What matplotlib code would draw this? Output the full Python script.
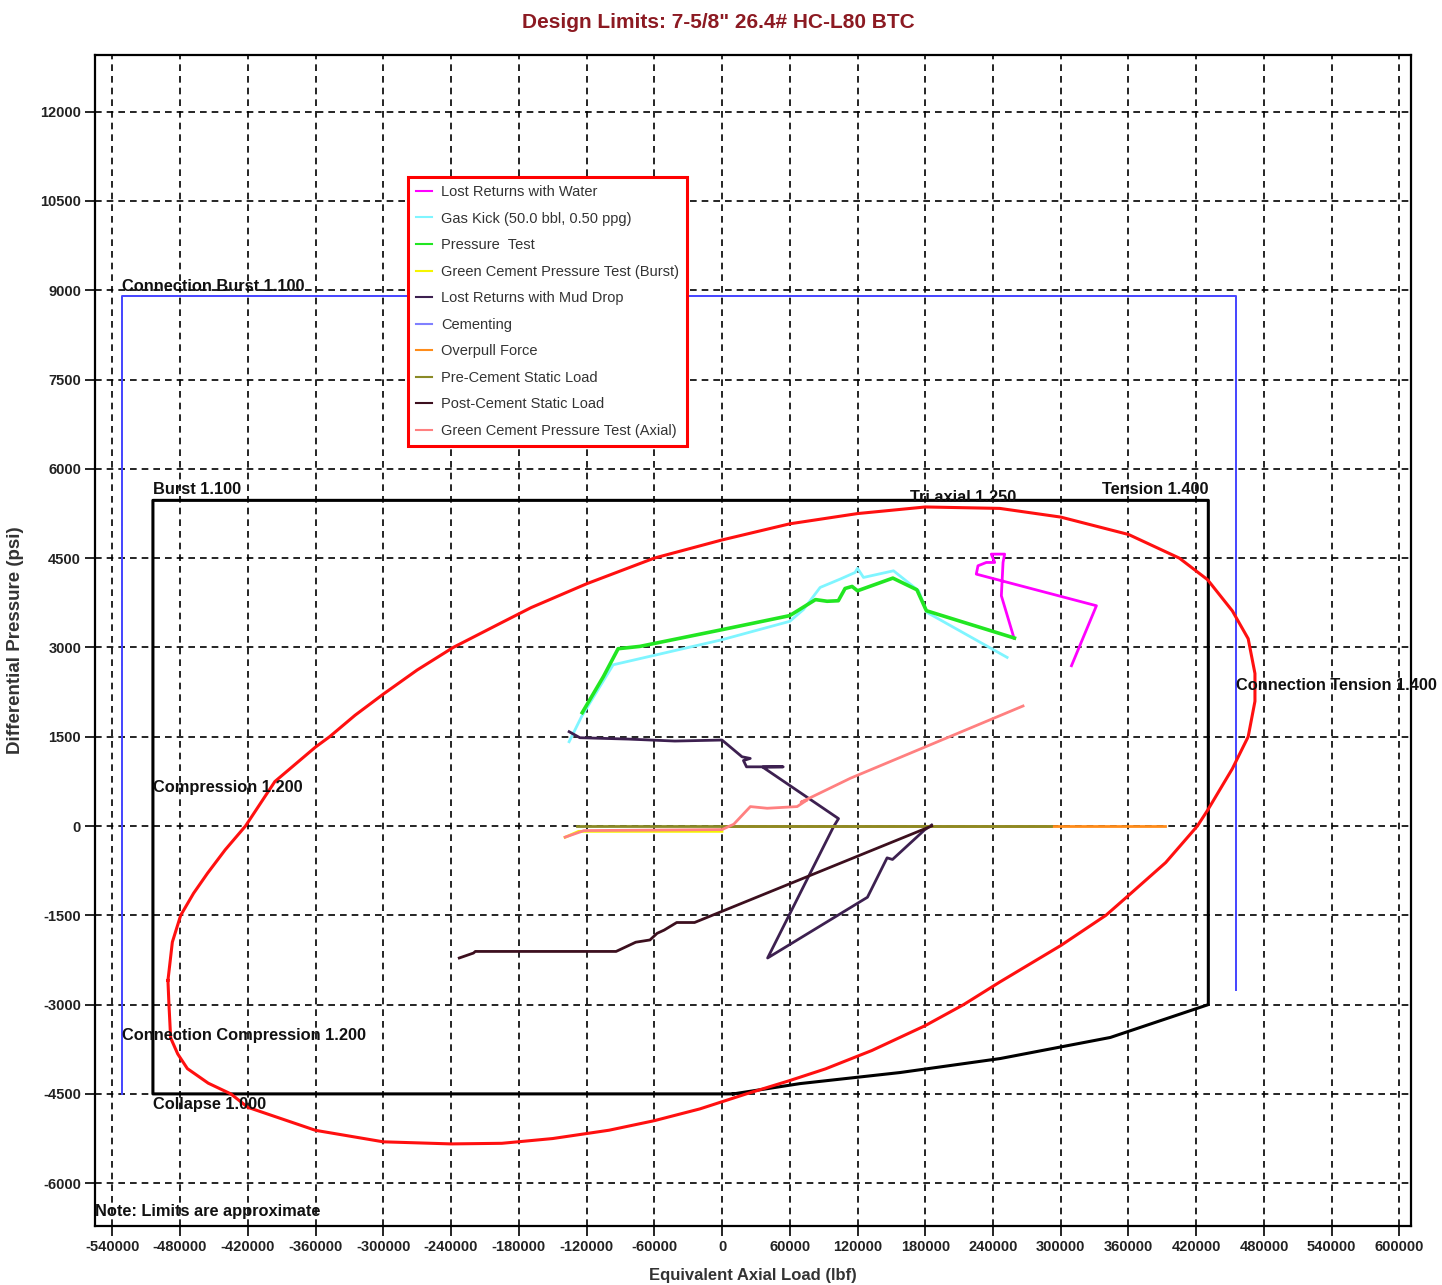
import matplotlib
matplotlib.use('Agg')
import matplotlib.pyplot as plt

plt.rcParams['font.family'] = ['Liberation Sans', 'DejaVu Sans']
plt.rcParams['axes.unicode_minus'] = False

# ---------------- data ----------------
title = 'Design Limits: 7-5/8" 26.4# HC-L80 BTC'
x_ticks = list(range(-540000, 600001, 60000))
y_ticks = list(range(-6000, 12001, 1500))

# Triaxial (von Mises) ellipse
ellipse_x = [-490700, -486800, -479400, -468000, -455600, -440000, -422000, -396000, -360000,
             -347500, -325000, -300000, -270000, -238000, -195000, -169000, -120000, -60000,
             0, 60000, 120000, 180000, 246000, 300000, 360000, 405000, 430000, 452000, 466000,
             472000, 472000, 466000, 452000, 430000, 421000, 393000, 360000, 340000, 300000,
             246000, 214000, 180000, 132600, 91600, 60000, 21500, -19600, -60000, -100000,
             -150000, -195000, -240000, -300000, -360000, -420000, -435000, -455000, -473500,
             -482000, -488300, -489800, -490700]
ellipse_y = [-2594, -1950, -1500, -1130, -792, -400, 0, 747, 1326,
             1500, 1860, 2215, 2620, 3000, 3418, 3669, 4068, 4500,
             4805, 5076, 5248, 5359, 5335, 5189, 4897, 4500, 4138, 3613, 3146,
             2562, 2095, 1500, 963, 263, 0, -613, -1167, -1500, -2008,
             -2621, -3000, -3353, -3772, -4080, -4276, -4500, -4752, -4950, -5110,
             -5250, -5330, -5340, -5305, -5112, -4725, -4500, -4320, -4075,
             -3830, -3560, -3000, -2594]

# Pipe body limits (black)
body_x = [10000, -504000, -504000, 430700, 430700, 343900, 246400, 157800, 69100, 10000]
body_y = [-4500, -4500, 5470, 5470, -3000, -3552, -3906, -4141, -4327, -4500]

# Connection limits (blue)
conn_x = [-531000, -531000, 455000, 455000]
conn_y = [-4500, 8900, 8900, -2760]

# Load cases
water_x = [258600, 247400, 248900, 250300, 238500, 241500, 234100, 226700, 225200, 331600, 309500]
water_y = [3157, 3868, 4427, 4567, 4567, 4427, 4427, 4371, 4231, 3700, 2692]

gaskick_x = [-135400, -124400, -96400, 0, 60000, 72100, 86900, 104600, 117900, 120000, 125300,
             151900, 174100, 181500, 252500]
gaskick_y = [1416, 1837, 2708, 3129, 3438, 3635, 4007, 4147, 4259, 4330, 4175,
             4287, 3951, 3588, 2832]

ptest_x = [-123800, -105000, -92000, -72700, 0, 60000, 82800, 93100, 103000, 109000, 115200,
           120000, 151300, 172600, 181000, 259000]
ptest_y = [1904, 2511, 2978, 3017, 3298, 3534, 3803, 3775, 3784, 3990, 4024,
           3951, 4164, 3968, 3616, 3157]

gcburst_x = [-139000, -127000, -60000, 0]
gcburst_y = [-190, -90, -90, -90]

muddrop_x = [-135400, -125900, -83000, -41700, 0, 17700, 25000, 19000, 21700, 54200, 36000,
             103200, 98800, 40400, 128800, 146200, 151000, 179400, 185700]
muddrop_y = [1584, 1483, 1460, 1427, 1444, 1163, 1135, 1100, 994, 994, 990,
             124, -11, -2217, -1197, -535, -562, -66, 17]

cementing_x = []
cementing_y = []

overpull_x = [0, 392000]
overpull_y = [0, 0]

precement_x = [-128600, 291800]
precement_y = [0, 0]

postcement_x = [-232700, -220100, -218500, -93800, -76400, -63800, -57500, -51200, -40100,
                -24300, 185700]
postcement_y = [-2217, -2134, -2107, -2107, -1952, -1914, -1803, -1748, -1621,
                -1621, 0]

gcaxial_x = [-138900, -122200, 0, 10400, 25100, 40000, 66500, 75400, 70000, 113800, 266600]
gcaxial_y = [-187, -77, -60, 30, 326, 298, 326, 438, 400, 803, 2016]

series = [
    ('Lost Returns with Water', water_x, water_y, '#ff00ff'),
    ('Gas Kick (50.0 bbl, 0.50 ppg)', gaskick_x, gaskick_y, '#7ff5ff'),
    ('Pressure  Test', ptest_x, ptest_y, '#22e622'),
    ('Green Cement Pressure Test (Burst)', gcburst_x, gcburst_y, '#f5f500'),
    ('Lost Returns with Mud Drop', muddrop_x, muddrop_y, '#3d2050'),
    ('Cementing', cementing_x, cementing_y, '#8080ff'),
    ('Overpull Force', overpull_x, overpull_y, '#ff8c1a'),
    ('Pre-Cement Static Load', precement_x, precement_y, '#8a8a26'),
    ('Post-Cement Static Load', postcement_x, postcement_y, '#3c0f1e'),
    ('Green Cement Pressure Test (Axial)', gcaxial_x, gcaxial_y, '#ff8080'),
]

# ---------------- figure ----------------
W, H = 1442, 1285
fig = plt.figure(figsize=(W / 100, H / 100), dpi=100)
ax = fig.add_axes([95 / W, 1 - 1226 / H, (1411 - 95) / W, (1226 - 55) / H])

ax.set_xlim(-555300, 610200)
ax.set_ylim(-6719, 12951)
ax.set_xticks(x_ticks)
ax.set_yticks(y_ticks)
ax.tick_params(axis='both', direction='out', length=7, width=1.2, labelsize=10.5, pad=3)
for lab in ax.get_xticklabels() + ax.get_yticklabels():
    lab.set_fontweight('bold')
    lab.set_color('#222222')
for s in ax.spines.values():
    s.set_linewidth(1.6)
ax.grid(True, color='black', linestyle=(0, (4, 3)), linewidth=1.2)
ax.set_axisbelow(True)

# limits
ax.plot(conn_x, conn_y, color='#4444ff', lw=1.4, zorder=2)
ax.plot(body_x, body_y, color='black', lw=2.2, zorder=2)
ax.plot(ellipse_x, ellipse_y, color='#ff1010', lw=2.2, zorder=3)

for name, xs, ys, c in series:
    lw = 2.0
    if name == 'Pressure  Test':
        lw = 2.6
    ax.plot(xs, ys, color=c, lw=lw, label=name, zorder=4)

# annotations
tk = dict(fontsize=11.8, fontweight='bold', color='#111111', zorder=6)
ax.text(-531000, 8940, 'Connection Burst 1.100', ha='left', va='bottom', **tk)
ax.text(-504000, 5520, 'Burst 1.100', ha='left', va='bottom', **tk)
ax.text(166500, 5510, 'Tri axial 1.250', ha='left', va='center', **tk)
ax.text(430700, 5520, 'Tension 1.400', ha='right', va='bottom', **tk)
ax.text(-504000, 655, 'Compression 1.200', ha='left', va='center', **tk)
ax.text(455000, 2368, 'Connection Tension 1.400', ha='left', va='center', **tk)
ax.text(-531000, -3511, 'Connection Compression 1.200', ha='left', va='center', **tk)
ax.text(-504000, -4560, 'Collapse 1.000', ha='left', va='top', **tk)
ax.text(0.0, 0.006, 'Note: Limits are approximate', transform=ax.transAxes,
        ha='left', va='bottom', **tk)

leg = ax.legend(loc='upper left', bbox_to_anchor=((408 - 95) / 1316, 1 - (177 - 55) / 1171),
                borderaxespad=0, fontsize=10.5, frameon=True, fancybox=False,
                framealpha=1, edgecolor='#ff0000', handlelength=1.1, handletextpad=0.6,
                labelspacing=0.86, borderpad=0.55)
leg.get_frame().set_linewidth(2.2)
leg.set_zorder(10)
for t in leg.get_texts():
    t.set_color('#333333')
for l in leg.get_lines():
    l.set_linewidth(1.5)

ax.set_xlabel('Equivalent Axial Load (lbf)', fontsize=12, fontweight='bold',
              color='#333333', labelpad=10)
ax.set_ylabel('Differential Pressure (psi)', fontsize=13.5, fontweight='bold',
              color='#333333', labelpad=12)
fig.suptitle(title, x=718 / W, y=1 - 22 / H, va='center', fontsize=15,
             fontweight='bold', color='#8c1a22')

fig.savefig('out.png', dpi=100)
